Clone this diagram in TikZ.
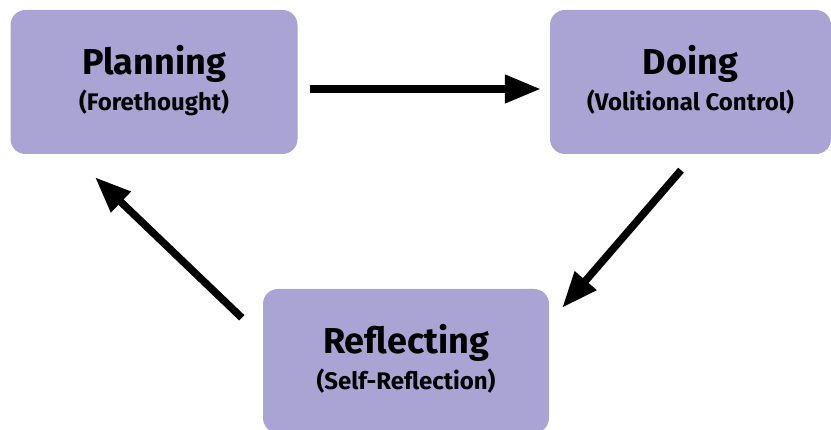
\documentclass[tikz,border=0pt]{standalone}
\usepackage{fontspec}
\setmainfont{Fira Sans}
\usepackage{tikz}
\usetikzlibrary{arrows.meta}
\usetikzlibrary{positioning}
\definecolor{lavender}{RGB}{169,164,212}

\tikzset{
  phasebox/.style={fill=lavender, rounded corners=15pt, minimum height=144pt, align=center, inner sep=0pt},
  cyclearrow/.style={line width=7.5pt, -{Triangle[length=36pt, width=27pt]}}
}
\newcommand{\phasetext}[2]{{\fontsize{36}{38}\selectfont\bfseries #1}\\[6pt]{\fontsize{24}{26}\selectfont\bfseries #2\rule[-8pt]{0pt}{8pt}}}

\begin{document}
\begin{tikzpicture}[x=1pt, y=1pt]
	\useasboundingbox (0,0) rectangle (831,430);
	% the three phases
	\node[phasebox, minimum width=287pt] (plan) at (154,348) {\phasetext{Planning}{(Forethought)}};
	\node[phasebox, minimum width=281pt] (doing) at (690.5,348) {\phasetext{Doing}{(Volitional Control)}};
	\node[phasebox, minimum width=286pt] (refl) at (406,69) {\phasetext{Reflecting}{(Self-Reflection)}};
	% the cycle
	\draw[cyclearrow] ([xshift=12pt, yshift=-7pt]plan.east) -- ([xshift=-9pt, yshift=-7pt]doing.west);
	\draw[cyclearrow] ([xshift=-9.5pt, yshift=-16pt]doing.south) -- ([xshift=13pt, yshift=-19pt]refl.north east);
	\draw[cyclearrow] ([xshift=-21pt, yshift=-29pt]refl.north west) -- ([xshift=-59pt, yshift=-23pt]plan.south);
\end{tikzpicture}
\end{document}
